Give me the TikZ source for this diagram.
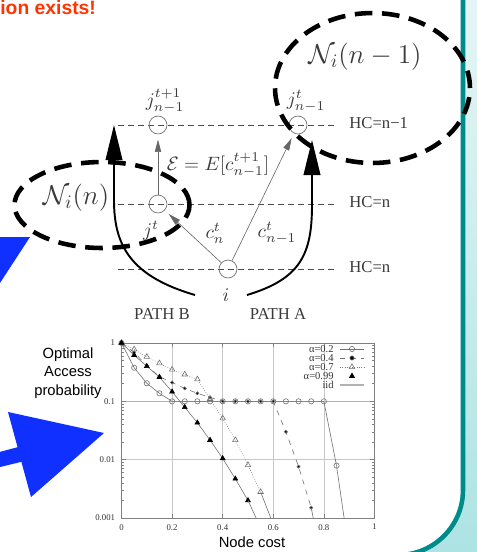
\RequirePackage{fix-cm}
\documentclass[tikz,border=0pt]{standalone}
\usepackage{fontspec}
\usetikzlibrary{arrows.meta,positioning,plotmarks}
\newfontfamily\arialfont{Liberation Sans}
\newfontfamily\timesfont{Liberation Serif}
\definecolor{slideteal}{HTML}{008B8B}
\definecolor{slidecyan}{HTML}{E6F5F5}
\definecolor{slidecyandeep}{HTML}{ADE3E3}
\definecolor{alertred}{HTML}{FF3300}
\definecolor{pointerblue}{HTML}{1030FF}
\definecolor{ink}{HTML}{3A3A3A}
\tikzset{
  hcline/.style={draw=black!70, line width=0.4pt, dash pattern=on 3.4pt off 2.3pt},
  hclabel/.style={anchor=west, inner sep=0pt, text=ink,
    font=\timesfont\fontsize{9.5}{11}\selectfont},
  hopnode/.style={circle, draw=black!55, line width=0.4pt,
    minimum size=10.2pt, inner sep=0pt},
  hoplabel/.style={inner sep=0pt, text=ink, font=\fontsize{11}{13}\selectfont},
  costarrow/.style={draw=black!60, line width=0.35pt, shorten >=3pt,
    -{Triangle[length=7pt, width=3.6pt]}},
  patharrow/.style={line width=1.1pt, -{Triangle[length=20pt, width=9.5pt]}},
  pathlabel/.style={inner sep=0pt, text=ink,
    font=\timesfont\fontsize{9.5}{11}\selectfont},
  hoodring/.style={line width=2.6pt, dash pattern=on 10pt off 5.5pt},
  hoodlabel/.style={inner sep=0pt, text=ink, font=\fontsize{15.5}{18}\selectfont},
  pointer/.style={fill=pointerblue, draw=none},
  gridline/.style={draw=black!22, line width=0.3pt},
  frameline/.style={draw=black!50, line width=0.35pt},
  curve/.style={draw=black!55, line width=0.35pt},
  ticklabel/.style={inner sep=0pt, text=black!80,
    font=\timesfont\fontsize{5}{6}\selectfont},
  keylabel/.style={anchor=east, inner sep=0pt, text=black!80,
    font=\timesfont\fontsize{6}{7}\selectfont},
  axislabel/.style={align=center, inner sep=0pt,
    font=\arialfont\fontsize{8.4}{10.4}\selectfont},
}

\begin{document}
\begin{tikzpicture}[x=0.02cm, y=-0.02cm]
  \useasboundingbox (0,0) rectangle (477,552);
  \clip (0,0) rectangle (477,552);

  % slide border on the right
  \shade[top color=slidecyan, bottom color=slidecyandeep]
    (463,-5) -- (480,-5) -- (480,560) -- (398,560) -- (398,555)
    .. controls (433.9,555) and (463,525.9) .. (463,490) -- cycle;
  \draw[slideteal, line width=2.6pt] (463,-5) -- (463,490)
    .. controls (463,525.9) and (433.9,555) .. (398,555);

  \node[anchor=base west, inner sep=0pt, text=alertred,
    font=\arialfont\bfseries\fontsize{11}{13}\selectfont] (teaser) at (0,14) {ion exists!};

  % hop-count levels
  \foreach \lvl/\txt [count=\k] in {125/HC=n−1, 204/HC=n, 269/HC=n}{
    \draw[hcline] (118,\lvl) -- (337,\lvl);
    \node[hclabel] (hc\k) at (349,\lvl-2) {\txt};
  }

  \node[hopnode] (jnext) at (158,125) {};
  \node[hopnode] (jhop) at (298,125) {};
  \node[hopnode] (jcur) at (158,204) {};
  \node[hopnode] (nodei) at (228,269) {};

  \node[hoplabel] (jnextlbl) at (165,101) {$j^{t+1}_{n-1}$};
  \node[hoplabel] (jhoplbl) at (306,101) {$j^{t}_{n-1}$};
  \node[hoplabel] (jcurlbl) at (151,231) {$j^{t}$};
  \node[hoplabel] (nodeilbl) at (226,295) {$i$};
  \node[hoplabel] (costcur) at (215,233) {$c^{t}_{n}$};
  \node[hoplabel] (costhop) at (277,233) {$c^{t}_{n-1}$};
  \node[hoplabel] (costexp) at (218,165) {$\mathcal{E}=E[c^{t+1}_{n-1}]$};

  \draw[costarrow] (jcur) -- (jnext);
  \draw[costarrow] (nodei) -- (jcur);
  \draw[costarrow] (nodei) -- (jhop);

  % the two paths
  \coordinate (bfoot) at (195,295);
  \coordinate (btip) at (114,125);
  \coordinate (afoot) at (247,295);
  \coordinate (atip) at (312,140);
  \draw[patharrow] (bfoot) .. controls (130,276) and (114,245) .. (114,200) -- (btip);
  \draw[patharrow] (afoot) .. controls (300,279) and (312,255) .. (312,205) -- (atip);
  \node[pathlabel] (pathb) at (162,314) {PATH B};
  \node[pathlabel] (patha) at (278,314) {PATH A};

  % neighbourhoods
  \node[hoodlabel] (hoodfar) at (365,57) {$\mathcal{N}_i(n-1)$};
  \node[hoodlabel] (hoodnear) at (76,198) {$\mathcal{N}_i(n)$};
  \draw[hoodring] (372.5,88) ellipse [x radius=1.95cm, y radius=1.5cm];
  \draw[hoodring] (102,205) ellipse [x radius=1.75cm, y radius=0.86cm];

  % access probability plot
  \begin{scope}[shift={(121.5,343)}, x=5.06cm, y=1.1667cm]
    \foreach \gx in {0.2,0.4,0.6,0.8}
      \draw[gridline] (\gx,-3) -- (\gx,0);
    \draw[gridline] (0,-2) -- (1,-2);
    \draw[draw=black!30, line width=0.8pt] (0,-1) -- (1,-1);
    \draw[frameline] (0,-3) rectangle (1,0);
    \foreach \d in {1,2,3}{
      \draw[frameline] (0,1-\d) -- ++(0.016,0);
      \draw[frameline] (1,1-\d) -- ++(-0.016,0);
      \foreach \m in {2,...,9}{
        \draw[frameline] (0,{log10(\m)-\d}) -- ++(0.009,0);
        \draw[frameline] (1,{log10(\m)-\d}) -- ++(-0.009,0);
      }
    }
    \foreach \gx in {0.2,0.4,0.6,0.8}{
      \draw[frameline] (\gx,-3) -- ++(0,0.07);
      \draw[frameline] (\gx,0) -- ++(0,-0.07);
    }
    \foreach \v/\t [count=\k] in {0/1,-1/0.1,-2/0.01,-3/0.001}
      \node[ticklabel, anchor=east] (ytick\k) at (-0.024,\v) {\t};
    \foreach \v [count=\k] in {0,0.2,0.4,0.6,0.8,1}
      \node[ticklabel, anchor=north] (xtick\k) at (\v,-3.1) {\v};

    % alpha = 0.2
    \draw[curve] plot[mark=o, mark size=1.5pt, mark options={fill=white}] coordinates {
      (0,0) (0.05,-0.424) (0.1,-0.69) (0.15,-0.863) (0.2,-1) (0.25,-1) (0.3,-1)
      (0.35,-1) (0.4,-1) (0.45,-1) (0.5,-1) (0.55,-1) (0.6,-1) (0.65,-1) (0.7,-1)
      (0.75,-1) (0.8,-1) (0.85,-2.102)};
    \draw[curve] (0.85,-2.102) -- (0.88,-3);
    % alpha = 0.4
    \draw[curve, dashed] plot[mark=*, mark size=0.9pt, mark options={solid, fill=black}] coordinates {
      (0,0) (0.05,-0.161) (0.1,-0.387) (0.15,-0.577) (0.2,-0.678) (0.25,-0.777)
      (0.3,-0.863) (0.35,-0.932) (0.4,-1) (0.45,-1) (0.5,-1) (0.55,-1) (0.6,-1)
      (0.65,-1.523) (0.7,-2.119) (0.75,-2.824)};
    \draw[curve] (0.75,-2.824) -- (0.758,-3);
    % alpha = 0.7
    \draw[curve, densely dotted] plot[mark=triangle, mark size=1.8pt, mark options={solid}] coordinates {
      (0,0) (0.05,-0.108) (0.1,-0.237) (0.15,-0.347) (0.2,-0.456) (0.25,-0.538)
      (0.3,-0.623) (0.35,-0.959) (0.4,-1.292) (0.45,-1.664) (0.5,-2.092) (0.55,-2.553)};
    \draw[curve] (0.55,-2.553) -- (0.59,-3);
    % alpha = 0.99
    \draw[curve] plot[mark=triangle*, mark size=1.6pt, mark options={fill=black, draw=black}] coordinates {
      (0,0) (0.05,-0.208) (0.1,-0.398) (0.15,-0.585) (0.2,-0.836) (0.25,-1.102)
      (0.3,-1.367) (0.35,-1.664) (0.4,-1.979) (0.45,-2.328) (0.5,-2.699)};
    \draw[curve] (0.5,-2.699) -- (0.532,-3);
  \end{scope}

  % legend
  \foreach \lbl [count=\k] in {α=0.2, α=0.4, α=0.7, α=0.99, iid}
    \node[keylabel] (key\k) at (334,{340+9*\k}) {\lbl};
  \draw[curve] (340,349) -- (364,349);
  \draw[curve] plot[mark=o, mark size=1.5pt, mark options={fill=white}] coordinates {(352,349)};
  \draw[curve, dashed] (340,358) -- (364,358);
  \draw[curve] plot[mark=*, mark size=1.2pt, mark options={fill=black}] coordinates {(352,358)};
  \draw[curve, densely dotted] (340,367) -- (364,367);
  \draw[curve] plot[mark=triangle, mark size=1.8pt] coordinates {(352,367)};
  \draw[black] plot[mark=triangle*, mark size=1.6pt, mark options={fill=black}] coordinates {(352,376)};
  \draw[draw=black!30, line width=0.8pt] (340,385) -- (364,385);

  \node[axislabel] (ylabel) at (68,373) {Optimal\\Access\\probability};
  \node[axislabel] (xlabel) at (252,542) {Node cost};

  % blue pointers
  \fill[pointer] (30,237) -- (-68,237) -- (-23.5,319) -- cycle;
  \fill[pointer] (-12,455) -- (17.6,447.2) -- (8,412) -- (104,433)
    -- (31,497) -- (21.4,461.8) -- (-8,469) -- cycle;
\end{tikzpicture}
\end{document}
